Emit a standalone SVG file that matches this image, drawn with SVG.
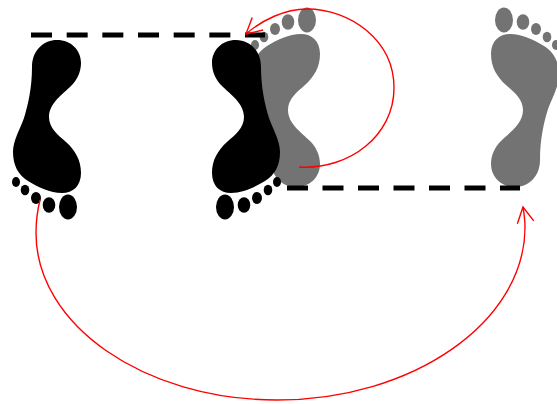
<svg xmlns="http://www.w3.org/2000/svg" width="557" height="404" viewBox="0 0 557 404">
<defs>
<style>
.black{fill:#000}
.gray{fill:#737373}
.dash{fill:none;stroke:#000;stroke-width:5}
.red{fill:none;stroke:#f00;stroke-width:1.4;marker-end:url(#open)}
</style>
<marker id="open" markerUnits="userSpaceOnUse" markerWidth="24" markerHeight="24" refX="18" refY="12" orient="auto" overflow="visible">
<path d="M2.5 3.7L18 12L2.5 20.3" fill="none" stroke="#f00" stroke-width="1.4"/>
</marker>
<g id="foot">
<path d="M57 40C71 40 81 50 81 63C81 72 77 80 71 86C63 94 49 103 49 117C49 128 58 135 66 142C75 150 81 160 81 173C81 186 73 193 62 193C50 193 38 187 28 181C18 175 13 165 13 152C13 141 20 129 24 118C28 105 32 88 32 67C32 50 44 40 57 40Z"/>
<ellipse cx="16" cy="182" rx="4" ry="5"/>
<ellipse cx="25" cy="190" rx="4.3" ry="5.2"/>
<ellipse cx="36" cy="198" rx="5" ry="6"/>
<ellipse cx="49" cy="205" rx="6.3" ry="7.7"/>
<ellipse cx="68" cy="207" rx="9" ry="12.5"/>
</g>
</defs>
<g id="foot-gray-middle" class="gray"><use href="#foot" transform="translate(239 227) scale(1 -1)"/></g>
<g id="foot-gray-right" class="gray"><use href="#foot" transform="translate(572 227) scale(-1 -1)"/></g>
<g id="foot-black-left" class="black"><use href="#foot"/></g>
<g id="foot-black-middle" class="black"><use href="#foot" transform="translate(293 0) scale(-1 1)"/></g>
<g id="connectors">
<path class="dash" d="M31 35H265" stroke-dasharray="21 14.67"/>
<path class="dash" d="M287 188H520" stroke-dasharray="21 14.5"/>
<path class="red" d="M299 167C350 170 394 135 394 88C394 40 350 9 307 9C285 9 262 20 246 34"/>
<path class="red" d="M40 200C37 212 36 222 36 233C36 325 144 400 277 400C413 400 525 322 525 227C525 220 524 213 523 207"/>
</g>
</svg>
